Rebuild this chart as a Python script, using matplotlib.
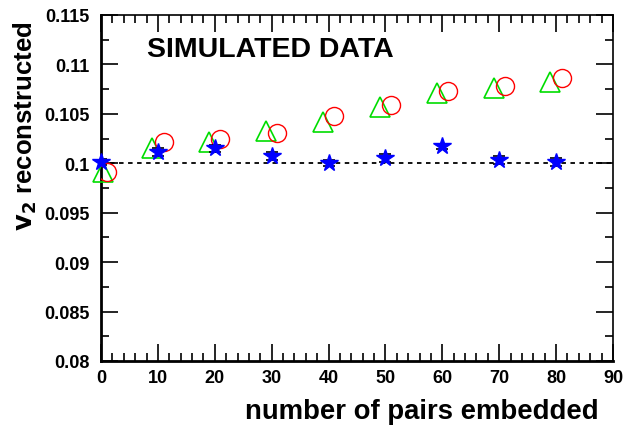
import numpy as np
import matplotlib
matplotlib.use("Agg")
import matplotlib.pyplot as plt
from matplotlib.ticker import MultipleLocator

plt.rcParams['font.family'] = ['Liberation Sans', 'DejaVu Sans']
plt.rcParams['font.weight'] = 'bold'

# data
n_pairs = [0, 10, 20, 30, 40, 50, 60, 70, 80]
v2_stars = [0.1001, 0.1011, 0.1015, 0.1007, 0.1000, 0.1005, 0.1017, 0.1003, 0.1001]
v2_stars_err = [0.0003, 0.0004, 0.0004, 0.0004, 0.0003, 0.0004, 0.0003, 0.0004, 0.0004]
x_triangles = [0.3, 9, 19, 29, 39, 49, 59, 69, 79]
v2_triangles = [0.0991, 0.1015, 0.1022, 0.1033, 0.1042, 0.1057, 0.1071, 0.1076, 0.1082]
x_circles = [1, 11, 21, 31, 41, 51, 61, 71, 81]
v2_circles = [0.0991, 0.1022, 0.1025, 0.1031, 0.1048, 0.1059, 0.1073, 0.1078, 0.1086]

fig = plt.figure(figsize=(6.24, 4.27), dpi=100)
ax = fig.add_axes([101/624, 1 - 362/427, 512/624, 346/427])

# reference line at the true v2
ax.plot([0, 90], [0.1, 0.1], color='black', ls=(0, (2.5, 2.5)), lw=1.3, zorder=1)

ax.plot(x_triangles, v2_triangles, ls='none', marker='^', ms=14, mfc='none',
        mec='#00dd00', mew=1.2, zorder=3, clip_on=False)
ax.plot(x_circles, v2_circles, ls='none', marker='o', ms=13, mfc='none',
        mec='#ff0000', mew=1.0, zorder=3)
ax.errorbar(n_pairs, v2_stars, yerr=v2_stars_err, ls='none', ecolor='black',
            elinewidth=1.2, capsize=4, capthick=1.2, zorder=4)
ax.plot(n_pairs, v2_stars, ls='none', marker='*', ms=13, color='#0000ff',
        mec='#0000ff', zorder=5, clip_on=False)

ax.set_xlim(0, 90)
ax.set_ylim(0.08, 0.115)
ax.xaxis.set_major_locator(MultipleLocator(10))
ax.xaxis.set_minor_locator(MultipleLocator(2))
ax.yaxis.set_major_locator(MultipleLocator(0.005))
ax.yaxis.set_minor_locator(MultipleLocator(0.0025))
ax.set_yticks(np.arange(0.08, 0.1151, 0.005))
ax.set_yticklabels(['0.08', '0.085', '0.09', '0.095', '0.1', '0.105', '0.11', '0.115'])

ax.tick_params(which='both', direction='in', top=True, right=True,
               labelsize=13, width=1.2)
ax.tick_params(axis='x', pad=6)
ax.tick_params(axis='y', pad=8)
ax.tick_params(which='major', length=12)
ax.tick_params(which='minor', length=6)
for lab in ax.get_xticklabels() + ax.get_yticklabels():
    lab.set_fontweight('bold')
for side in ['left', 'bottom']:
    ax.spines[side].set_linewidth(2)
for side in ['top', 'right']:
    ax.spines[side].set_linewidth(1.2)

ax.text(8.1, 0.1116, 'SIMULATED DATA', fontsize=20.5, fontweight='bold', va='center')

fig.text(599/624, 1 - 412/427, 'number of pairs embedded', fontsize=19.8,
         fontweight='bold', ha='right', va='center')
fig.text(25/624, 1 - 126/427, r'$\mathbf{v_2}$ reconstructed', fontsize=18.5,
         fontweight='bold', rotation=90, ha='center', va='center')

fig.savefig('out.png', dpi=100)
